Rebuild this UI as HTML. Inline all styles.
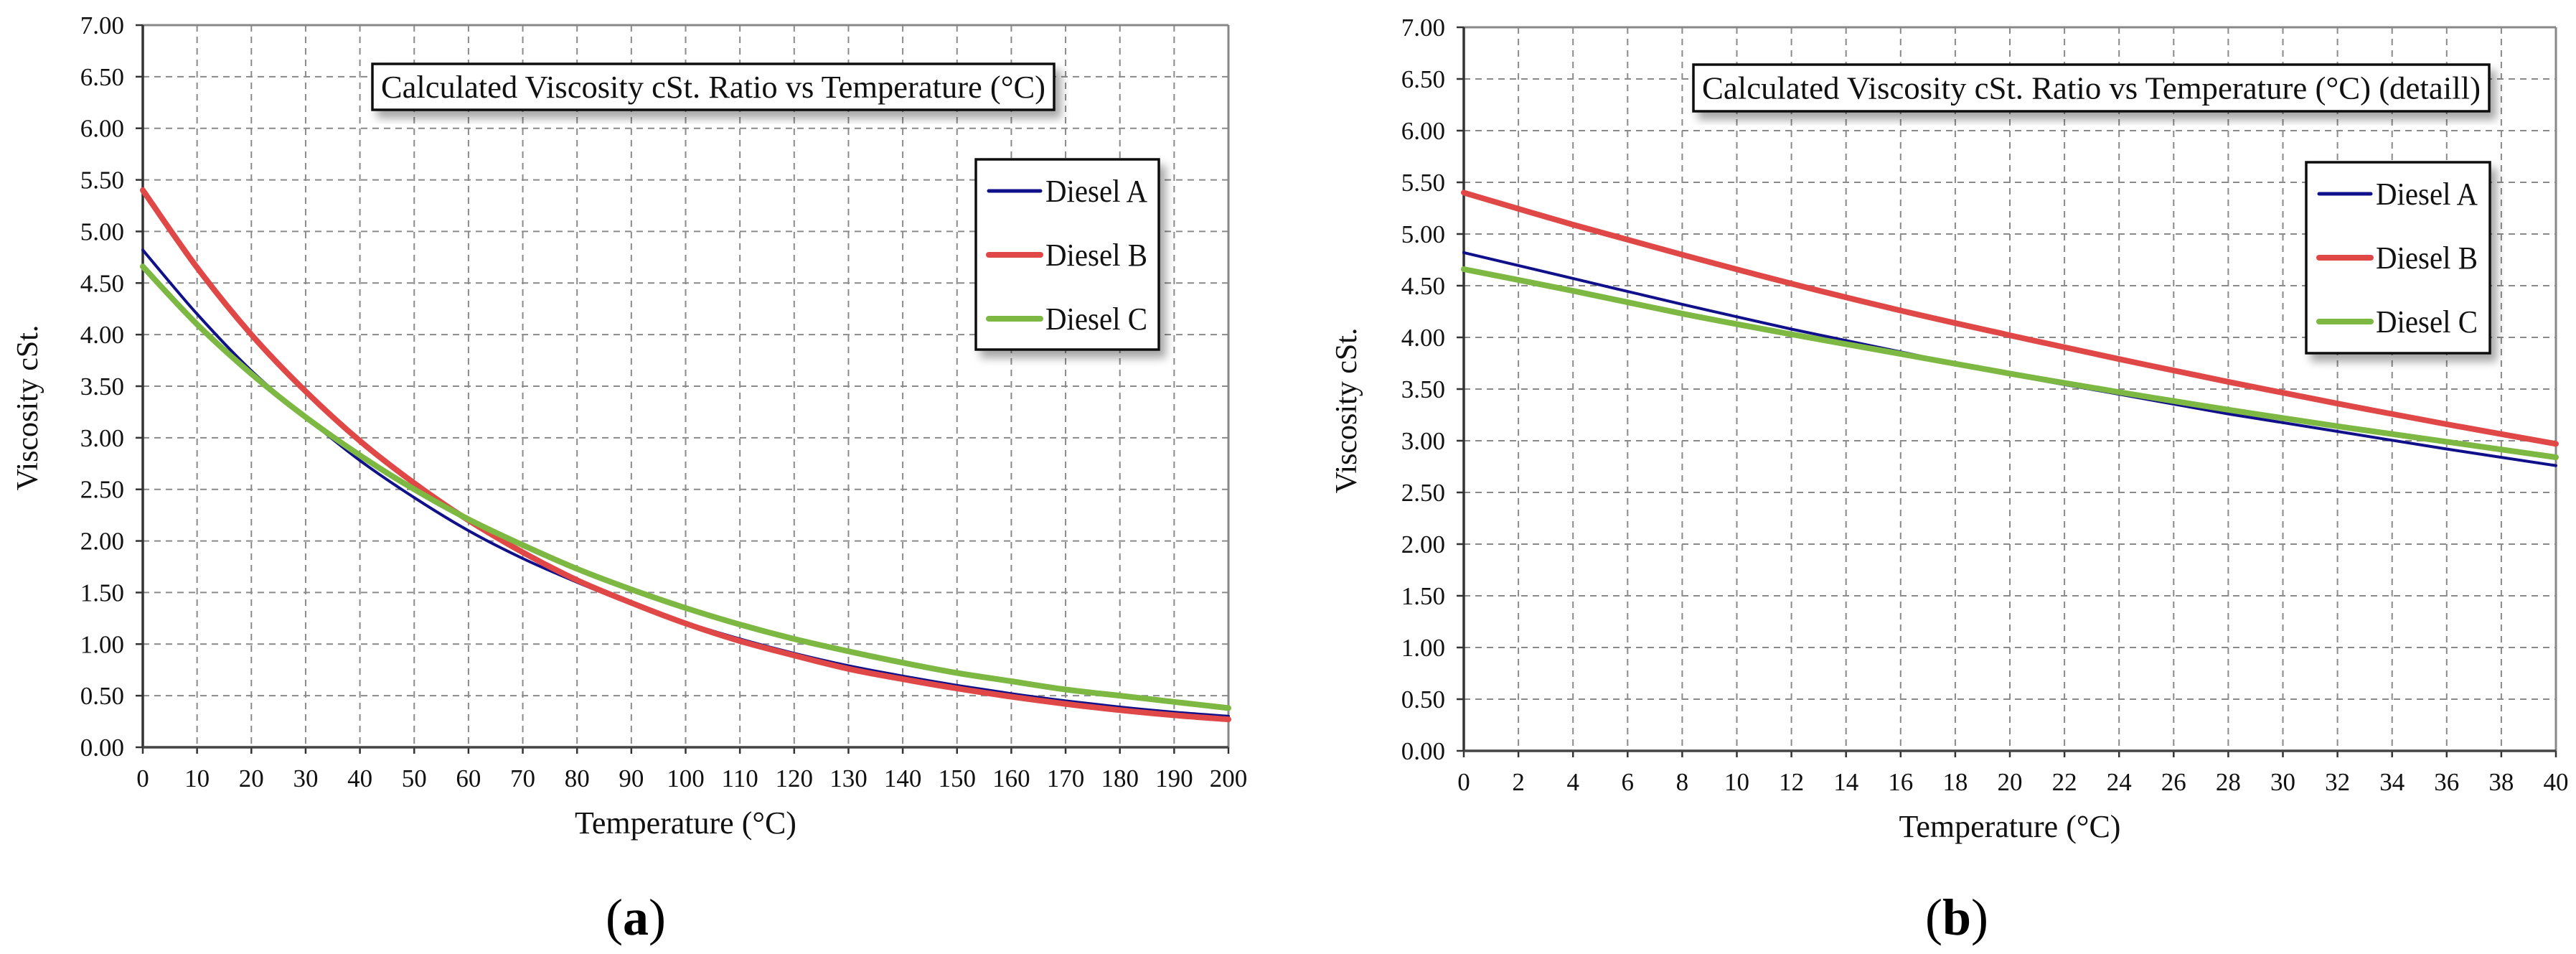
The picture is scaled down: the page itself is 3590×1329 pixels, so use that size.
<!DOCTYPE html>
<html><head><meta charset="utf-8"><style>
html,body{margin:0;padding:0;background:#fff;}
svg{display:block;font-family:"Liberation Serif",serif;}
</style></head><body>
<svg id="svg" width="3590" height="1329" viewBox="0 0 3590 1329" xmlns="http://www.w3.org/2000/svg">
<defs><filter id="sh" x="-10%" y="-10%" width="130%" height="140%"><feDropShadow dx="8" dy="10" stdDeviation="6" flood-color="#000" flood-opacity="0.35"/></filter></defs>
</svg>
<script>
// Panel (a) data
const xA = [0,10,20,30,40,50,60,70,80,90,100,110,120,130,140,150,160,170,180,190,200];
const aDieselA = [4.82,4.20,3.65,3.20,2.78,2.42,2.10,1.83,1.60,1.39,1.21,1.05,0.91,0.79,0.69,0.60,0.52,0.45,0.39,0.34,0.30];
const aDieselB = [5.40,4.65,4.00,3.45,2.97,2.56,2.20,1.89,1.62,1.40,1.20,1.03,0.89,0.76,0.66,0.57,0.49,0.42,0.36,0.31,0.27];
const aDieselC = [4.66,4.10,3.62,3.20,2.83,2.50,2.21,1.96,1.73,1.53,1.35,1.19,1.05,0.93,0.82,0.72,0.64,0.56,0.50,0.44,0.38];
// Panel (b) data
const xB = [0,4,8,12,16,20,24,28,32,36,40];
const bDieselA = [4.82,4.57,4.32,4.08,3.86,3.64,3.45,3.26,3.09,2.92,2.76];
const bDieselB = [5.40,5.09,4.80,4.52,4.26,4.02,3.79,3.57,3.36,3.16,2.97];
const bDieselC = [4.66,4.45,4.23,4.03,3.84,3.65,3.47,3.30,3.14,2.99,2.84];
const yTicks = ["0.00","0.50","1.00","1.50","2.00","2.50","3.00","3.50","4.00","4.50","5.00","5.50","6.00","6.50","7.00"];
const xTicksA = [0,10,20,30,40,50,60,70,80,90,100,110,120,130,140,150,160,170,180,190,200];
const xTicksB = [0,2,4,6,8,10,12,14,16,18,20,22,24,26,28,30,32,34,36,38,40];
const seriesNames = ["Diesel A","Diesel B","Diesel C"];

const NS="http://www.w3.org/2000/svg";
const svg=document.getElementById('svg');
function mk(tag,attrs,parent){const e=document.createElementNS(NS,tag);for(const k in attrs)e.setAttribute(k,attrs[k]);(parent||svg).appendChild(e);return e;}
function smooth(pts){
  let d='M'+pts[0][0].toFixed(1)+','+pts[0][1].toFixed(1);
  for(let i=0;i<pts.length-1;i++){
    const p0=pts[Math.max(i-1,0)],p1=pts[i],p2=pts[i+1],p3=pts[Math.min(i+2,pts.length-1)];
    const c1=[p1[0]+(p2[0]-p0[0])/6,p1[1]+(p2[1]-p0[1])/6];
    const c2=[p2[0]-(p3[0]-p1[0])/6,p2[1]-(p3[1]-p1[1])/6];
    d+=' C'+c1[0].toFixed(1)+','+c1[1].toFixed(1)+' '+c2[0].toFixed(1)+','+c2[1].toFixed(1)+' '+p2[0].toFixed(1)+','+p2[1].toFixed(1);
  }
  return d;
}

function panel(cfg){
  const g=mk('g',{});
  
  
  const sx=v=>cfg.x0+(v-cfg.xmin)/(cfg.xmax-cfg.xmin)*(cfg.x1-cfg.x0);
  const sy=v=>cfg.y0-(v/7)*(cfg.y0-cfg.y1);
  cfg.xTicks.forEach(t=>{const X=sx(t);
    if(t!==cfg.xmin&&t!==cfg.xmax){const l=mk('line',{x1:X,y1:cfg.y1,x2:X,y2:cfg.y0,stroke:'#8a8a8a','stroke-width':2,'stroke-dasharray':'9,7'},g);
    }
    mk('line',{x1:X,y1:cfg.y0,x2:X,y2:cfg.y0+9,stroke:'#333','stroke-width':2.5},g);
    const tx=mk('text',{x:X,y:cfg.y0+55,'font-size':35,'text-anchor':'middle',fill:'#111'},g);tx.textContent=t;
    
  });
  yTicks.forEach(t=>{const Y=sy(parseFloat(t));
    if(parseFloat(t)>0&&parseFloat(t)<7){const l=mk('line',{x1:cfg.x0,y1:Y,x2:cfg.x1,y2:Y,stroke:'#8a8a8a','stroke-width':2,'stroke-dasharray':'9,7'},g);
    }
    mk('line',{x1:cfg.x0-10,y1:Y,x2:cfg.x0,y2:Y,stroke:'#333','stroke-width':2.5},g);
    const tx=mk('text',{x:cfg.x0-26,y:Y+12,'font-size':35,'text-anchor':'end',fill:'#111'},g);tx.textContent=t;
    
  });
  mk('line',{x1:cfg.x0,y1:cfg.y1,x2:cfg.x1,y2:cfg.y1,stroke:'#888','stroke-width':3},g);
  mk('line',{x1:cfg.x1,y1:cfg.y1,x2:cfg.x1,y2:cfg.y0,stroke:'#888','stroke-width':3},g);
  const ax=mk('line',{x1:cfg.x0,y1:cfg.y1,x2:cfg.x0,y2:cfg.y0,stroke:'#333','stroke-width':3.5},g);
  
  const bx=mk('line',{x1:cfg.x0,y1:cfg.y0,x2:cfg.x1,y2:cfg.y0,stroke:'#444','stroke-width':3.5},g);
  
  const cols=['#10108a','#e04848','#7db843'],wid=[4,8,8];
  [0,1,2].forEach(i=>{const pts=cfg.series[i].map((v,j)=>[sx(cfg.xs[j]),sy(v)]);
    const p=mk('path',{d:smooth(pts),fill:'none',stroke:cols[i],'stroke-width':wid[i],'stroke-linejoin':'round','stroke-linecap':'round'},g);
    
    
  });
  const tb=mk('rect',{x:cfg.tb[0],y:cfg.tb[1],width:cfg.tb[2],height:cfg.tb[3],fill:'#fff',stroke:'#111','stroke-width':3.5,filter:'url(#sh)'},g);
  
  const tt=mk('text',{x:cfg.tb[0]+12,y:cfg.tb[1]+cfg.tb[3]/2+15,'font-size':44,textLength:cfg.tb[2]-24,lengthAdjust:'spacingAndGlyphs',fill:'#111'},g);
  tt.textContent=cfg.title;
  const L=cfg.lg;
  const lb=mk('rect',{x:L[0],y:L[1],width:L[2],height:L[3],fill:'#fff',stroke:'#111','stroke-width':3.5,filter:'url(#sh)'},g);
  
  [0,1,2].forEach(i=>{const Y=L[1]+44+i*89;
    const ln=mk('line',{x1:L[0]+18,y1:Y,x2:L[0]+90,y2:Y,stroke:cols[i],'stroke-width':i?8:5,'stroke-linecap':'round'},g);
    
    const t=mk('text',{x:L[0]+97,y:Y+15,'font-size':44,textLength:142,lengthAdjust:'spacingAndGlyphs',fill:'#111'},g);
    t.textContent=seriesNames[i];
  });
  const xt=mk('text',{x:(cfg.x0+cfg.x1)/2,y:cfg.y0+120,'font-size':44,'text-anchor':'middle',fill:'#111'},g);
  xt.textContent='Temperature (°C)';
  const yt=mk('text',{x:0,y:0,'font-size':42,'text-anchor':'middle',fill:'#111',transform:`translate(${cfg.ytx},${(cfg.y0+cfg.y1)/2+30}) rotate(-90)`},g);
  yt.textContent='Viscosity cSt.';
  const pl=mk('text',{x:cfg.labx,y:1302,'font-size':72,'text-anchor':'middle',fill:'#000'},g);
  pl.innerHTML='(<tspan font-weight="bold">'+cfg.lab+'</tspan>)';
  
}
panel({name:'chart-a',x0:199,x1:1712,y0:1041,y1:35,xmin:0,xmax:200,xs:xA,xTicks:xTicksA,series:[aDieselA,aDieselB,aDieselC],
  tb:[519,89,950,64],title:'Calculated Viscosity cSt. Ratio vs Temperature (°C)',lg:[1360,222,255,265],ytx:52,labx:886,lab:'a'});
panel({name:'chart-b',x0:2040,x1:3562,y0:1046,y1:38,xmin:0,xmax:40,xs:xB,xTicks:xTicksB,series:[bDieselA,bDieselB,bDieselC],
  tb:[2360,90,1109,65],title:'Calculated Viscosity cSt. Ratio vs Temperature (°C) (detaill)',lg:[3214,226,256,266],ytx:1890,labx:2727,lab:'b'});
</script>
</body></html>
